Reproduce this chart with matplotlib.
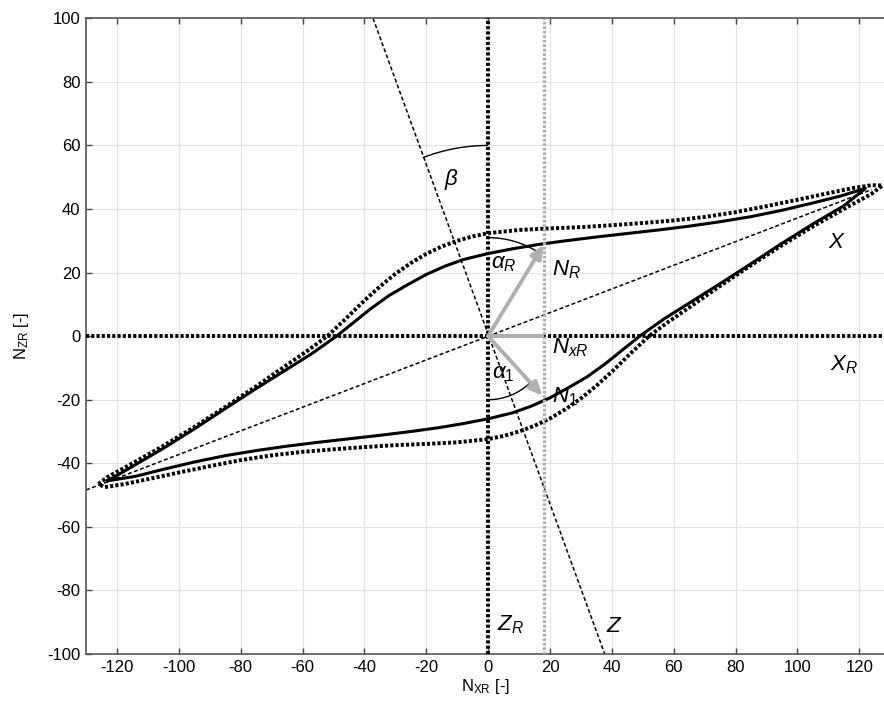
import matplotlib
matplotlib.use("Agg")
import matplotlib.pyplot as plt
from matplotlib.patches import Arc

plt.rcParams["font.family"] = ["Liberation Sans", "DejaVu Sans"]
plt.rcParams["mathtext.fontset"] = "custom"
plt.rcParams["mathtext.rm"] = "Liberation Sans"
plt.rcParams["mathtext.it"] = "Liberation Sans:italic"
plt.rcParams["mathtext.bf"] = "Liberation Sans:bold"
plt.rcParams["axes.unicode_minus"] = False

# hysteresis loop, solid curve (upper branch left->right, lower branch right->left)
solid_up_x = [-123, -115, -105, -95, -85, -75, -65, -57, -49, -44, -38, -32, -26, -20, -14, -8, 0,
              8, 16, 25, 35, 45, 55, 65, 75, 85, 95, 105, 114, 122]
solid_up_y = [-45.5, -41, -35.3, -29.2, -22.8, -16.5, -10.4, -5.5, 0, 3.9, 8.6, 12.8, 16.2, 19.4, 22, 24.1, 26,
              27.5, 28.8, 30, 31.2, 32.3, 33.4, 34.6, 36, 37.6, 39.6, 41.9, 44.1, 46.5]
solid_lo_x = [122, 115, 105, 95, 85, 75, 65, 57, 49, 44, 38, 32, 26, 20, 14, 8, 0,
              -8, -16, -25, -35, -45, -55, -65, -75, -85, -95, -105, -114, -123]
solid_lo_y = [46.5, 41, 35.3, 29.2, 22.8, 16.5, 10.4, 5.5, 0, -3.9, -8.6, -12.8, -16.2, -19.4, -22, -24.1, -26,
              -27.5, -28.8, -30, -31.2, -32.3, -33.4, -34.6, -36, -37.6, -39.6, -41.9, -44.1, -45.5]

# dotted curve
dot_up_x = [-126, -123, -115, -105, -95, -85, -75, -65, -58, -52, -46, -40, -35, -30, -25, -20, -15, -10, -5, 0,
            10, 20, 30, 40, 50, 60, 70, 80, 90, 100, 110, 118, 124, 127.5]
dot_up_y = [-46.5, -44.3, -40, -34.5, -28.6, -22.3, -15.8, -9, -4.3, 0, 5.5, 11.2, 15.6, 19.6, 23, 25.9, 28.2, 30, 31.4, 32.4,
            33.4, 33.9, 34.3, 34.9, 35.6, 36.4, 37.5, 39, 40.9, 42.9, 45, 46.6, 47.5, 47.4]
dot_lo_x = [127.5, 124, 115, 105, 95, 85, 75, 65, 58, 52, 46, 40, 35, 30, 25, 20, 15, 10, 5, 0,
            -10, -20, -30, -40, -50, -60, -70, -80, -90, -100, -110, -118, -124, -126]
dot_lo_y = [47.4, 44.8, 40, 34.5, 28.6, 22.3, 15.8, 9, 4.3, 0, -5.5, -11.2, -15.6, -19.6, -23, -25.9, -28.2, -30, -31.4, -32.4,
            -33.4, -33.9, -34.3, -34.9, -35.6, -36.4, -37.5, -39, -40.9, -42.9, -45, -46.6, -47.5, -46.5]

# rotated axes X and Z (thin dashed)
xline_x = [-130, 124]
xline_y = [-48.4, 46.1]
zline_x = [-37.2, 37.7]
zline_y = [100, -100]

# force components
n_r = (18, 28.8)
n_1 = (17.6, -18.8)
n_xr = 18

# arcs: (radius, theta1, theta2)
beta_arc = (60, 90, 110.6)
alpha_r_arc = (31, 58, 90)
alpha_1_arc = (20, -90, -47)

labels = [
    (r"$\beta$", -14.2, 47.5),
    (r"$\alpha_R$", 1.0, 21.4),
    (r"$\alpha_{\mathit{1}}$", 1.3, -13.2),
    (r"$N_R$", 20.6, 19.2),
    (r"$N_{xR}$", 20.6, -5.3),
    (r"$N_{\mathit{1}}$", 20.8, -20.8),
    (r"$X$", 110, 27.7),
    (r"$X_R$", 110.6, -10.7),
    (r"$Z$", 38, -93),
    (r"$Z_R$", 3, -92.5),
]

xticks = list(range(-120, 121, 20))
yticks = list(range(-100, 101, 20))

fig = plt.figure(figsize=(8.84, 7.04), dpi=100)
ax = fig.add_axes([0.0973, 0.071, 0.9027, 0.903])

gray = "#b0b0b0"
dots = (0, (0.8, 0.55))

ax.plot(xline_x, xline_y, color="black", lw=1.1, ls=(0, (2.6, 1.6)), zorder=2)
ax.plot(zline_x, zline_y, color="black", lw=1.1, ls=(0, (2.6, 1.6)), zorder=2)

ax.axhline(0, color="black", lw=2.8, ls=dots, zorder=3)
ax.axvline(0, color="black", lw=2.8, ls=dots, zorder=3)

ax.plot(dot_up_x + dot_lo_x, dot_up_y + dot_lo_y, color="black", lw=2.8, ls=dots, zorder=3)
ax.plot(solid_up_x + solid_lo_x, solid_up_y + solid_lo_y, color="black", lw=2.2, zorder=3)

ax.axvline(n_xr, color=gray, lw=2.4, ls=dots, zorder=4)
ax.plot([0, n_xr], [0, 0], color=gray, lw=2.8, solid_capstyle="butt", zorder=5)
for tip in (n_r, n_1):
    ax.annotate("", xy=tip, xytext=(0, 0),
                arrowprops=dict(arrowstyle="-|>,head_length=0.8,head_width=0.35",
                                color=gray, lw=2.8, shrinkA=0, shrinkB=0),
                zorder=5)

for r, t1, t2 in (beta_arc, alpha_r_arc, alpha_1_arc):
    ax.add_patch(Arc((0, 0), 2 * r, 2 * r, theta1=t1, theta2=t2,
                     color="black", lw=1.0, zorder=4))

for txt, x, y in labels:
    ax.text(x, y, txt, fontsize=16, ha="left", va="baseline", zorder=6)

ax.set_xlim(-130, 128)
ax.set_ylim(-100, 100)
ax.set_xticks(xticks)
ax.set_yticks(yticks)
ax.grid(True, color="#e2e2e2", lw=0.8, zorder=0)
ax.set_axisbelow(True)
ax.tick_params(direction="in", length=4, width=1.0, color="#444444",
               labelsize=12, top=True, right=False, pad=4)
for side in ("left", "bottom", "top"):
    ax.spines[side].set_color("#555555")
    ax.spines[side].set_linewidth(1.2)
ax.spines["right"].set_visible(False)

ax.set_xlabel(r"N$_{\mathregular{XR}}$ [-]", fontsize=12, labelpad=2)
ax.set_ylabel(r"N$_{\mathregular{ZR}}$ [-]", fontsize=12, labelpad=12)

fig.savefig("out.png", dpi=100)
